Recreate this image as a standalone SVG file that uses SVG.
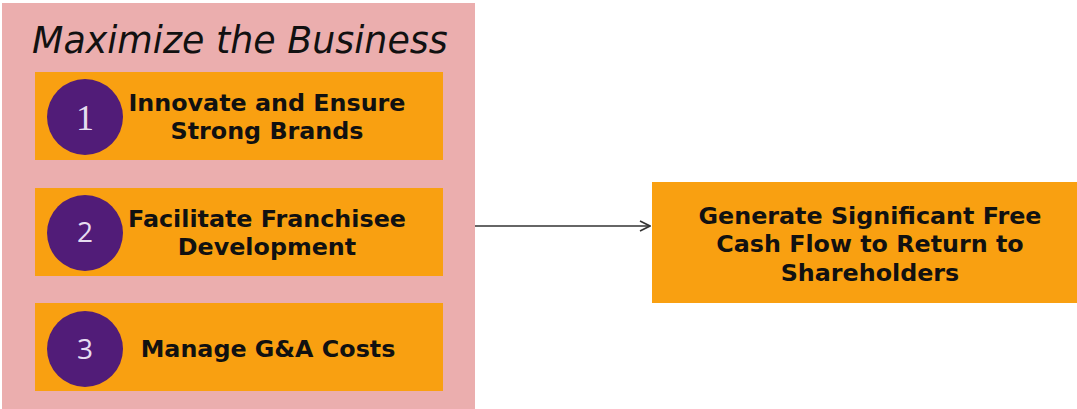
<svg xmlns="http://www.w3.org/2000/svg" width="1077" height="409" viewBox="0 0 1077 409">
  <style>
    .panel { fill: #ebaeae; }
    .step { fill: #f9a011; }
    .badge { fill: #511c78; }
    .title { font-family: "DejaVu Sans", Verdana, sans-serif; font-style: italic; font-size: 36.4px; fill: #111; }
    .label { font-family: "DejaVu Sans", Verdana, sans-serif; font-weight: bold; font-size: 23.8px; fill: #111; text-anchor: middle; }
    .num { font-family: "Open Sans", "Liberation Sans", sans-serif; font-size: 28px; fill: #e6ddf0; text-anchor: middle; }
    .num-serif { font-family: "Liberation Serif", serif; font-size: 36px; fill: #e6ddf0; text-anchor: middle; }
    .link { stroke: #333; stroke-width: 1.6; fill: none; }
  </style>
  <defs>
    <marker id="chevron" viewBox="0 0 12 12" refX="11" refY="6" markerWidth="12" markerHeight="12" markerUnits="userSpaceOnUse" orient="auto">
      <path d="M1,1 L11,6 L1,11" fill="none" stroke="#333" stroke-width="1.6"/>
    </marker>
  </defs>

  <rect width="1077" height="409" fill="#ffffff"/>

  <!-- grouping panel -->
  <g id="panel">
    <rect class="panel" x="2" y="3" width="473" height="406"/>
    <text class="title" x="32" y="53">Maximize the Business</text>
  </g>

  <g id="step1">
    <rect class="step" x="35" y="72" width="408" height="88"/>
    <circle class="badge" cx="85" cy="117" r="38"/>
    <text class="num-serif" x="85" y="130">1</text>
    <text class="label" x="267" y="111">Innovate and Ensure</text>
    <text class="label" x="267" y="139">Strong Brands</text>
  </g>

  <g id="step2">
    <rect class="step" x="35" y="188" width="408" height="88"/>
    <circle class="badge" cx="85" cy="233" r="38"/>
    <text class="num" x="85" y="242">2</text>
    <text class="label" x="267" y="227">Facilitate Franchisee</text>
    <text class="label" x="267" y="255">Development</text>
  </g>

  <g id="step3">
    <rect class="step" x="35" y="303" width="408" height="88"/>
    <circle class="badge" cx="85" cy="349" r="38"/>
    <text class="num" x="85" y="359">3</text>
    <text class="label" x="268" y="357">Manage G&amp;A Costs</text>
  </g>

  <g id="outcome">
    <rect class="step" x="652" y="182" width="425" height="121"/>
    <text class="label" x="870" y="224">Generate Significant Free</text>
    <text class="label" x="870" y="252">Cash Flow to Return to</text>
    <text class="label" x="870" y="281">Shareholders</text>
  </g>

  <g id="connectors">
    <line class="link" x1="475" y1="226" x2="650" y2="226" marker-end="url(#chevron)"/>
  </g>
</svg>
